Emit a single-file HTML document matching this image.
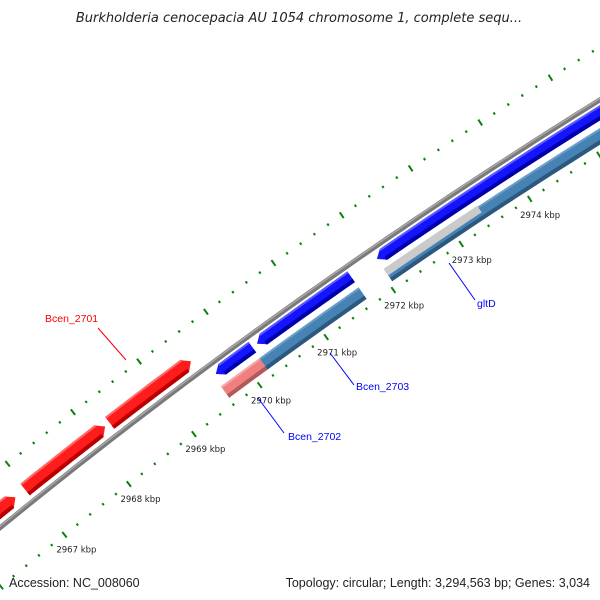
<!DOCTYPE html>
<html><head><meta charset="utf-8"><style>
body{margin:0;background:#fff;}
svg{display:block;font-family:"Liberation Sans",sans-serif;}
</style></head><body>
<svg id="map" width="600" height="600" viewBox="0 0 600 600">
<rect width="600" height="600" fill="#fff"/>
<g id="rings"></g>
<text x="299" y="22" text-anchor="middle" font-size="13" font-style="italic" fill="#222" style="font-family:'DejaVu Sans',sans-serif">Burkholderia cenocepacia AU 1054 chromosome 1, complete sequ...</text>
<text x="9" y="587" font-size="12.5" fill="#222">Accession: NC_008060</text>
<text x="590" y="587" text-anchor="end" font-size="12.5" fill="#222">Topology: circular; Length: 3,294,563 bp; Genes: 3,034</text>
</svg>
<script>
// data
const featStart = [2960.0, 2966.97, 2968.27, 2969.65, 2970.27, 2972.05, 2969.61, 2970.19, 2972.05, 2972.05];
const featEnd   = [2966.82, 2968.20, 2969.50, 2970.20, 2971.67, 2980.0, 2970.19, 2971.67, 2980.0, 2973.42];
const featRing  = ["rev","rev","rev","fwd","fwd","fwd","in","in","in","in2"];
const featColor = ["red","red","red","blue","blue","blue","pink","steel","steel","grey"];
const featNames = ["feature-2700","bcen-2701-feature","bcen-2701b-feature","feature-blue-a","bcen-2703-feature","gltd-feature","bcen-2702-feature","bcen-2703b-feature","gltd-b-feature","grey-feature"];
const tickStartKbp = 2960, tickEndKbp = 2985;
const tickLabelKbp = [2967,2968,2969,2970,2971,2972,2973,2974];
const geneLabels = ["Bcen_2701","Bcen_2702","Bcen_2703","gltD"];
const geneLabelKbp = [2968.9, 2970.0, 2971.0, 2972.5];
const geneLabelColor = ["#f00","#00f","#00f","#00f"];

const CX=3643, CY=5001;
const R_GREY=5769, R_OUT=5814, R_IN=5723;
const ringR = {rev:5783, fwd:5758, in:5738, in2:5742};
const ringW = {rev:15, fwd:13, in:14, in2:8};
const palette = {
  red:["#ff1c1c","#ff6a6a","#b80000"],
  blue:["#1414ff","#5a5aff","#0000a8"],
  pink:["#f08080","#f6a8a8","#b05a5a"],
  steel:["#4682b4","#6a9fcc","#2c587e"],
  grey:["#cacaca","#e4e4e4","#a0a0a0"]
};
const NS="http://www.w3.org/2000/svg";
const g=document.getElementById('rings');
function ang(k){return (233.76+(k-2970)*0.821)*Math.PI/180;}
function pt(r,k){const a=ang(k);return [CX+r*Math.cos(a),CY+r*Math.sin(a)];}
function arcPts(r,k1,k2){const n=Math.max(2,Math.ceil(Math.abs(k2-k1)*6));const p=[];for(let i=0;i<=n;i++){p.push(pt(r,k1+(k2-k1)*i/n));}return p;}
function poly(points,fill,name){
  const e=document.createElementNS(NS,'polygon');
  e.setAttribute('points',points.map(p=>p[0].toFixed(1)+','+p[1].toFixed(1)).join(' '));
  e.setAttribute('fill',fill);
  
  
  g.appendChild(e);return e;
}
function band(r,w,k1,k2,fill,name,arrow){
  const ak=8/r*180/Math.PI/0.821;
  let b1=k1,b2=k2;
  if(arrow==='start')b1=k1+ak;
  if(arrow==='end')b2=k2-ak;
  const outer=arcPts(r+w/2,b1,b2), inner=arcPts(r-w/2,b2,b1);
  let pts=outer.slice();
  if(arrow==='end')pts.push(pt(r,k2));
  pts=pts.concat(inner);
  if(arrow==='start')pts.push(pt(r,k1));
  return poly(pts,fill,name);
}
function arcPath(r,w,col,name){
  const p=arcPts(r,2955,2990);
  const e=document.createElementNS(NS,'polyline');
  e.setAttribute('points',p.map(q=>q[0].toFixed(1)+','+q[1].toFixed(1)).join(' '));
  e.setAttribute('fill','none');e.setAttribute('stroke',col);e.setAttribute('stroke-width',w);
  
  
  g.appendChild(e);
}
arcPath(R_GREY,5,'#7a7a7a','backbone');
arcPath(R_GREY+1.2,1.5,'#a8a8a8','backbone-highlight');
for(let i=0;i<featStart.length;i++){
  const ring=featRing[i], r=ringR[ring], w=ringW[ring], c=palette[featColor[i]];
  const arrow = ring==='rev'?'end':(ring==='fwd'?'start':null);
  band(r,w,featStart[i],featEnd[i],c[0],featNames[i],arrow);
  if(ring!=='in2'){
    band(r-w/2+2,4,featStart[i]+(arrow==='start'?0.09:0),featEnd[i]-(arrow==='end'?0.09:0),c[2],featNames[i]+'-shade',null);
    band(r+w/2-1,2,featStart[i]+(arrow==='start'?0.09:0),featEnd[i]-(arrow==='end'?0.09:0),c[1],featNames[i]+'-highlight',null);
  }
}
function tick(r,k,len,name){
  const a=pt(r-len/2,k), b=pt(r+len/2,k);
  const e=document.createElementNS(NS,'line');
  e.setAttribute('x1',a[0]);e.setAttribute('y1',a[1]);e.setAttribute('x2',b[0]);e.setAttribute('y2',b[1]);
  e.setAttribute('stroke','#0a820a');e.setAttribute('stroke-width',2);
  
  
  g.appendChild(e);
}
for(let i=0;i<=(tickEndKbp-tickStartKbp)*5;i++){
  const k=tickStartKbp+i*0.2, major=(i%5===0);
  tick(R_IN,k,major?7:2.5,major?'inner-major-tick':'inner-minor-tick');
  tick(R_OUT,k,major?7:2.5,major?'outer-major-tick':'outer-minor-tick');
}
for(const k of tickLabelKbp){
  const p=pt(R_IN-19,k);
  const t=document.createElementNS(NS,'text');
  t.setAttribute('x',p[0].toFixed(1));t.setAttribute('y',(p[1]+3).toFixed(1));
  t.setAttribute('text-anchor','middle');t.setAttribute('font-size','8.5');t.setAttribute('fill','#222');
  t.setAttribute('style',"font-family:'DejaVu Sans',sans-serif");
  t.textContent=k+' kbp';
  
  
  g.appendChild(t);
}
const lbl=[
  {from:[126,360],to:[98,328],tx:45,ty:322},
  {from:[258,398],to:[284,433],tx:288,ty:440},
  {from:[330,353],to:[354,385],tx:356,ty:390},
  {from:[449,263],to:[475,300],tx:477,ty:307}
];
for(let i=0;i<geneLabels.length;i++){
  const L=lbl[i];
  const ln=document.createElementNS(NS,'line');
  ln.setAttribute('x1',L.from[0]);ln.setAttribute('y1',L.from[1]);ln.setAttribute('x2',L.to[0]);ln.setAttribute('y2',L.to[1]);
  ln.setAttribute('stroke',geneLabelColor[i]);ln.setAttribute('stroke-width',1);
  
  
  g.appendChild(ln);
  const t=document.createElementNS(NS,'text');
  t.setAttribute('x',L.tx);t.setAttribute('y',L.ty);t.setAttribute('font-size','10.5');t.setAttribute('fill',geneLabelColor[i]);
  t.textContent=geneLabels[i];
  
  
  g.appendChild(t);
}
</script>
</body></html>
